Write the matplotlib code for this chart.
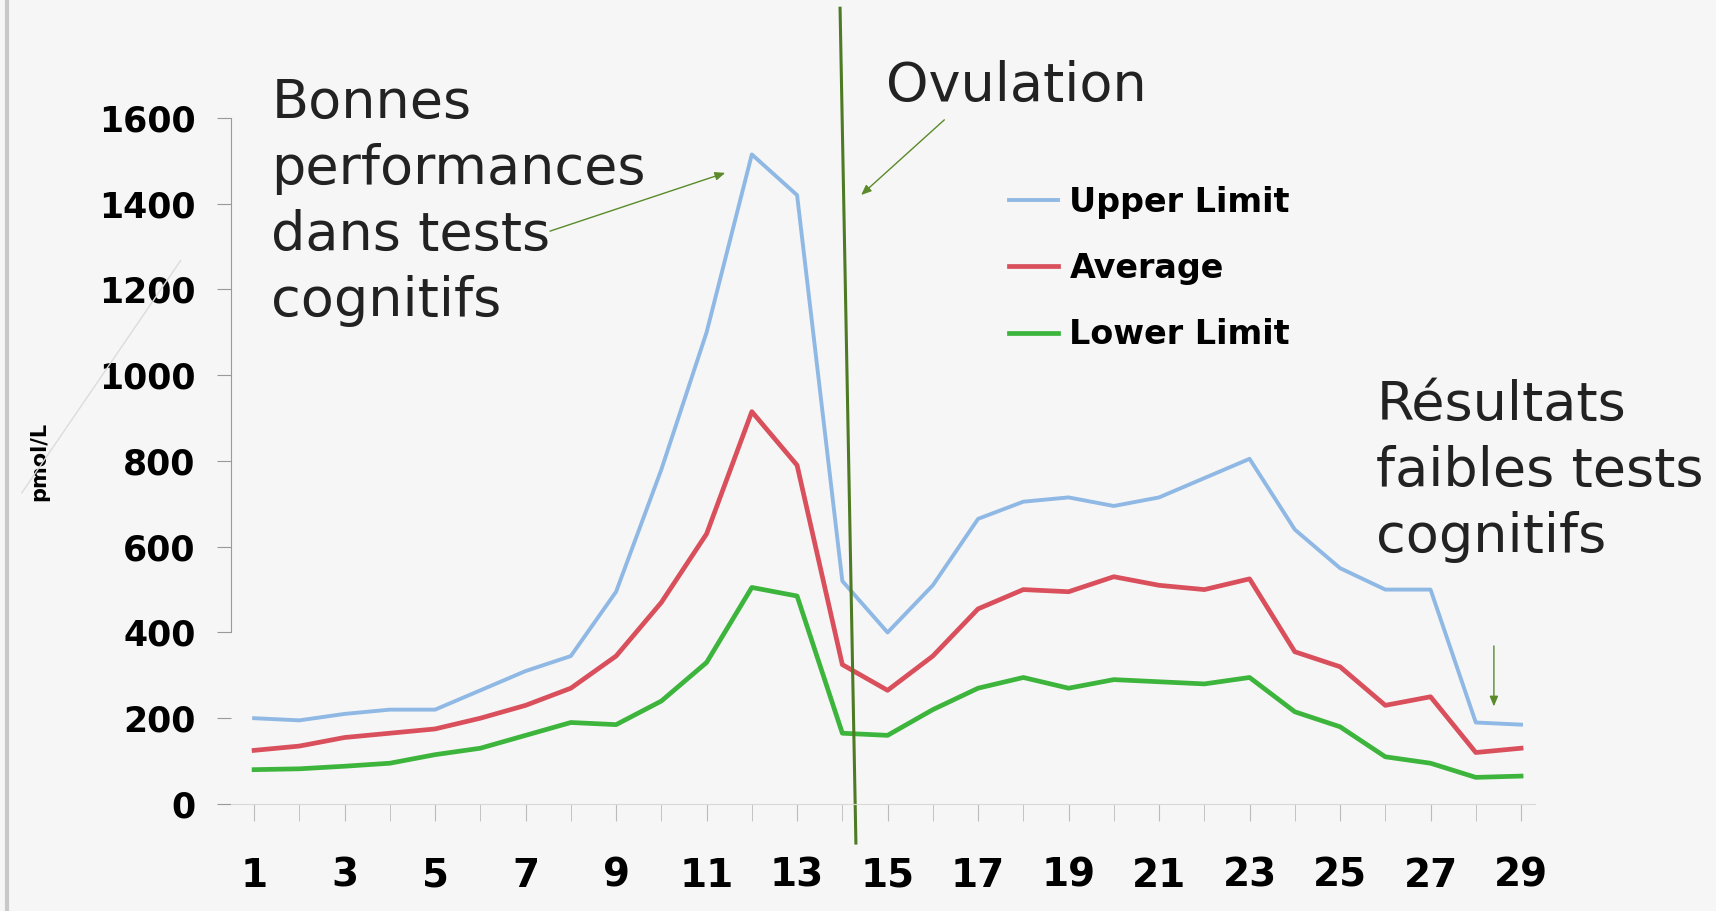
import numpy as np
import matplotlib
matplotlib.use("Agg")
from matplotlib import pyplot as plt

days = list(range(1, 30))
upper = [200, 195, 210, 220, 220, 265, 310, 345, 495, 780, 1100, 1515, 1420, 520, 400,
         510, 665, 705, 715, 695, 715, 760, 805, 640, 550, 500, 500, 190, 185]
average = [125, 135, 155, 165, 175, 200, 230, 270, 345, 470, 630, 915, 790, 325, 265,
           345, 455, 500, 495, 530, 510, 500, 525, 355, 320, 230, 250, 120, 130]
lower = [80, 82, 88, 95, 115, 130, 160, 190, 185, 240, 330, 505, 485, 165, 160,
         220, 270, 295, 270, 290, 285, 280, 295, 215, 180, 110, 95, 62, 65]
series_names = ["Upper Limit", "Average", "Lower Limit"]
series_colors = ["#8fb9e4", "#d9505c", "#3db53d"]
yticks = [0, 200, 400, 600, 800, 1000, 1200, 1400, 1600]
xticks = list(range(1, 30, 2))
ovulation_day = 14.3

bg = "#f6f6f6"
fig = plt.figure(figsize=(17.16, 9.11), dpi=100, facecolor=bg)
ax = fig.add_axes([0.1349, 0.1175, 0.7594, 0.753], facecolor=bg)

for vals, name, col in zip([upper, average, lower], series_names, series_colors):
    ax.plot(days, vals, color=col, lw=3.4 if name != "Upper Limit" else 2.8, label=name,
            solid_joinstyle="round")

ax.set_xlim(0.5, 29.3)
ax.set_ylim(0, 1600)
ax.set_yticks(yticks)
ax.set_yticklabels([str(v) for v in yticks], fontsize=25, fontweight="bold")
ax.set_xticks(xticks)
ax.set_xticklabels([str(v) for v in xticks], fontsize=28, fontweight="bold")
ax.set_xticks(days, minor=True)
ax.tick_params(axis="x", which="both", length=12, color="#bbbbbb", pad=26)
ax.tick_params(axis="y", length=10, color="#999999", pad=16)
for s in ["top", "right"]:
    ax.spines[s].set_visible(False)
ax.spines["left"].set_color("#9a9a9a")
ax.spines["bottom"].set_color("#d8d8d8")
ax.spines["left"].set_bounds(400, 1600)
ax.set_ylabel("pmol/L", fontsize=15, fontweight="bold")
ax.yaxis.set_label_coords(-0.14, 0.5)

# ovulation line, runs past the axes
ax.plot([ovulation_day - 0.35, ovulation_day], [1.16, -0.057], color="#4d7a22",
        lw=2.2, transform=ax.get_xaxis_transform(), clip_on=False)

leg = ax.legend(loc="upper left", bbox_to_anchor=(0.574, 0.945), frameon=False,
                prop={"weight": "bold", "size": 24}, handlelength=1.45,
                handletextpad=0.35, labelspacing=1.0)

txt = dict(fontsize=39, family="DejaVu Sans", fontweight="normal", color="#222222",
           linespacing=1.34, va="top")
ax.text(1.38, 1695, "Bonnes\nperformances\ndans tests\ncognitifs", **txt)
ax.text(14.97, 1735, "Ovulation", **txt)
ax.text(25.8, 992, "Résultats\nfaibles tests\ncognitifs", **txt)

arr = dict(arrowstyle="-|>,head_length=0.6,head_width=0.25", color="#5a8a2a", lw=1.0)
ax.annotate("", xy=(11.47, 1474), xytext=(7.48, 1334), arrowprops=arr)
ax.annotate("", xy=(14.37, 1416), xytext=(16.3, 1600), arrowprops=arr)
ax.annotate("", xy=(28.4, 221), xytext=(28.4, 375), arrowprops=arr)

# faint left border of the slide and stray connector line
fig.add_artist(plt.Line2D([0.004, 0.004], [0, 1], color="#c8c8c8", lw=3))
fig.add_artist(plt.Line2D([20 / 1568, 165 / 1568], [1 - 450 / 832, 1 - 238 / 832],
                          color="#dcdcdc", lw=1))

fig.savefig("out.png", dpi=100, facecolor=bg)
